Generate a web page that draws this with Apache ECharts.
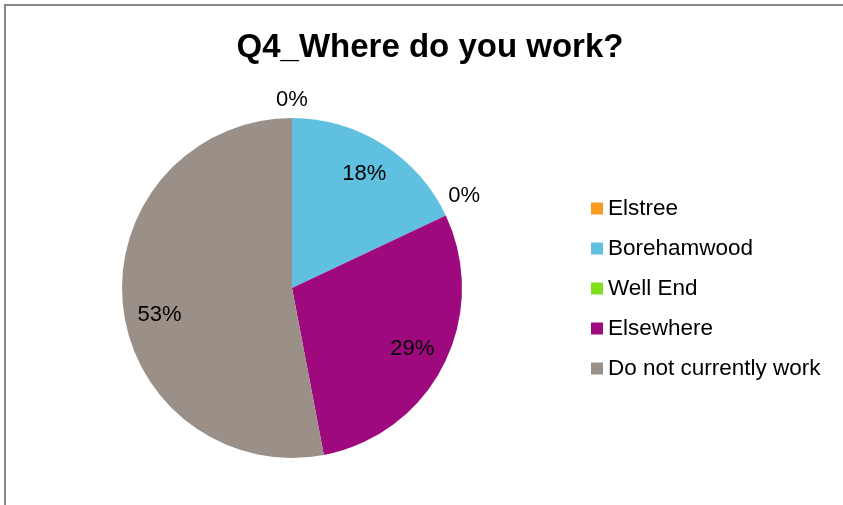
<!DOCTYPE html>
<html>
<head>
<meta charset="utf-8">
<script src="https://cdn.jsdelivr.net/npm/echarts@6/dist/echarts.min.js"></script>
<style>
  html, body { margin: 0; padding: 0; background: #fff; }
  #main { width: 843px; height: 505px; }
</style>
</head>
<body>
<div id="main"></div>
<script>
const categories = ['Elstree', 'Borehamwood', 'Well End', 'Elsewhere', 'Do not currently work']
const percents = [0, 18, 0, 29, 53]
const colors = ['#F79A1E', '#60C0E0', '#80E020', '#9E0A7E', '#9A9088']

const font = '"Liberation Sans", Arial, sans-serif'
const center = [292, 288]
// small nudges so labels sit where the original's "best fit" put them
const labelNudge = { 'Well End': [2, -12], 'Do not currently work': [2, 14] }

const chart = echarts.init(document.getElementById('main'))

const pieData = categories.map((name, i) => ({
  name: name,
  value: percents[i],
  itemStyle: { color: colors[i] }
}))

// label rings: same data, invisible sectors, only used to place the labels
function labelRing(radius, showZero) {
  return {
    type: 'pie',
    center: center,
    radius: radius,
    silent: true,
    legendHoverLink: false,
    emphasis: { disabled: true },
    tooltip: { show: false },
    itemStyle: { color: 'transparent', borderWidth: 0 },
    labelLine: { show: false },
    animation: false,
    data: categories.map((name, i) => ({
      name: name,
      value: percents[i],
      label: {
        show: showZero ? percents[i] === 0 : percents[i] !== 0,
        position: 'inside',
        formatter: '{c}%',
        color: '#000',
        fontSize: 22,
        fontFamily: font,
        offset: labelNudge[name] || [0, 0]
      }
    }))
  }
}

chart.setOption({
  backgroundColor: '#fff',
  title: {
    text: 'Q4_Where do you work?',
    left: 425,
    top: 26,
    textAlign: 'center',
    textStyle: { fontSize: 33, fontWeight: 'bold', color: '#000', fontFamily: font }
  },
  legend: {
    orient: 'vertical',
    left: 591,
    top: 197,
    padding: 0,
    itemWidth: 12,
    itemHeight: 12,
    itemGap: 17,
    itemTextGap: 3,
    itemStyle: { borderWidth: 0 },
    icon: 'rect',
    data: categories,
    textStyle: { fontSize: 22.5, lineHeight: 23, color: '#000', fontFamily: font }
  },
  graphic: [{
    type: 'rect',
    shape: { x: 5, y: 5, width: 900, height: 600 },
    style: { fill: 'none', stroke: '#888', lineWidth: 2 },
    silent: true
  }],
  series: [
    {
      type: 'pie',
      center: center,
      radius: 170,
      startAngle: 90,
      clockwise: true,
      label: { show: false },
      labelLine: { show: false },
      itemStyle: { borderWidth: 0 },
      animation: false,
      data: pieData
    },
    labelRing([94, 170], false),
    labelRing([172, 198], true)
  ]
})
</script>
</body>
</html>
